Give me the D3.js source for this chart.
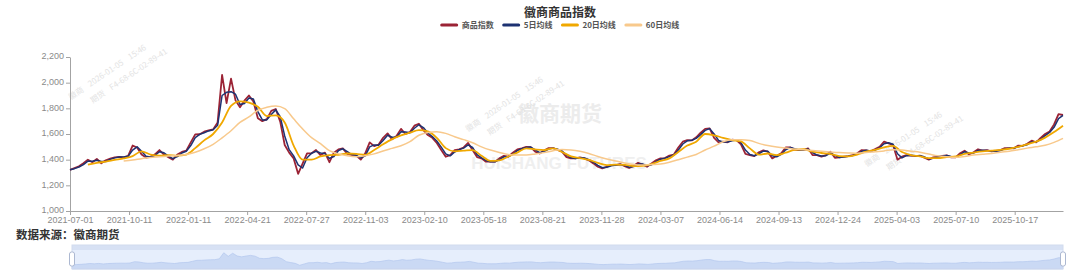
<!DOCTYPE html>
<html>
<head>
<meta charset="utf-8">
<script src="https://cdn.jsdelivr.net/npm/d3@7"></script>
<style>
  body { margin: 0; background: #fff; }
  svg { display: block; }
</style>
</head>
<body>
<div id="root"></div>
<script>
// ---- data ----
var dayCount = 1111;          // trading days on the category axis
var tickEvery = 66;           // one label every 66 trading days
var tickLabels = ["2021-07-01","2021-10-11","2022-01-11","2022-04-21","2022-07-27","2022-11-03",
  "2023-02-10","2023-05-18","2023-08-21","2023-11-28","2024-03-07","2024-06-14","2024-09-13",
  "2024-12-24","2025-04-03","2025-07-10","2025-10-17"];
var yDomain = [1000, 2200];

// 商品指数, one value every 5 trading days
var indexStep = 5;
var indexValues = [
  1320,1335,1348,1372,1400,1380,1405,1372,1395,1408,
  1418,1422,1418,1430,1510,1495,1441,1416,1422,1441,
  1475,1440,1420,1400,1440,1460,1470,1535,1597,1598,
  1618,1628,1636,1690,2060,1840,2031,1862,1808,1860,
  1900,1853,1722,1700,1716,1780,1795,1696,1514,1455,
  1410,1290,1370,1449,1450,1475,1436,1455,1380,1455,
  1480,1488,1445,1436,1432,1400,1449,1535,1505,1518,
  1570,1605,1558,1585,1640,1600,1615,1665,1680,1630,
  1592,1570,1530,1475,1423,1436,1475,1480,1495,1530,
  1475,1420,1410,1384,1384,1384,1410,1430,1423,1455,
  1480,1488,1500,1498,1462,1448,1472,1490,1490,1476,
  1462,1420,1410,1410,1418,1410,1395,1371,1345,1332,
  1345,1358,1358,1366,1350,1335,1352,1375,1362,1345,
  1370,1395,1410,1412,1432,1440,1495,1540,1552,1550,
  1574,1610,1640,1644,1570,1535,1540,1535,1556,1553,
  1520,1445,1436,1428,1458,1472,1462,1410,1430,1449,
  1495,1496,1478,1475,1475,1488,1436,1436,1423,1436,
  1462,1415,1418,1423,1428,1436,1450,1475,1472,1465,
  1482,1500,1540,1527,1515,1400,1423,1436,1432,1428,
  1432,1415,1400,1418,1423,1430,1434,1418,1418,1450,
  1470,1440,1458,1481,1470,1474,1464,1468,1474,1490,
  1490,1488,1510,1508,1524,1548,1535,1570,1600,1620,
  1675,1755,1748
];

// 5日均线, same grid
var ma5Step = 5;
var ma5Values = [
  1322,1330,1343,1362,1388,1388,1395,1385,1386,1402,
  1414,1420,1420,1426,1475,1500,1465,1426,1420,1433,
  1462,1454,1428,1408,1424,1452,1466,1510,1572,1597,
  1610,1624,1633,1668,1900,1925,1930,1910,1830,1838,
  1880,1872,1775,1710,1710,1752,1788,1735,1585,1478,
  1430,1360,1335,1415,1450,1465,1452,1448,1410,1425,
  1470,1485,1462,1440,1434,1414,1430,1500,1515,1512,
  1550,1590,1575,1575,1618,1615,1610,1645,1672,1650,
  1608,1580,1545,1498,1445,1430,1460,1478,1490,1515,
  1495,1440,1414,1394,1384,1384,1400,1422,1425,1442,
  1470,1485,1495,1498,1476,1454,1463,1482,1490,1482,
  1468,1436,1414,1410,1415,1413,1400,1380,1356,1337,
  1340,1352,1358,1363,1356,1341,1346,1366,1367,1352,
  1360,1385,1404,1411,1424,1437,1475,1522,1547,1551,
  1566,1595,1628,1642,1600,1550,1538,1537,1548,1554,
  1533,1475,1440,1431,1446,1466,1466,1430,1422,1441,
  1477,1495,1485,1476,1475,1483,1456,1436,1428,1431,
  1452,1434,1417,1421,1426,1433,1444,1465,1473,1468,
  1475,1493,1524,1532,1520,1446,1414,1431,1434,1430,
  1430,1422,1406,1411,1421,1427,1432,1424,1418,1437,
  1462,1452,1451,1472,1474,1472,1468,1466,1471,1484,
  1490,1489,1501,1509,1517,1538,1540,1556,1588,1612,
  1652,1720,1745
];

// 20日均线, every 10 days from day 20
var ma20Start = 20, ma20Step = 10;
var ma20Values = [
  1362,1375,1385,1398,1410,1428,1465,1440,1432,1436,
  1432,1440,1490,1550,1600,1690,1820,1855,1845,1812,
  1740,1745,1690,1510,1400,1400,1425,1436,1438,1448,
  1445,1438,1475,1520,1560,1590,1610,1630,1620,1570,
  1490,1465,1470,1475,1430,1390,1395,1425,1455,1488,
  1480,1475,1488,1460,1425,1412,1398,1375,1358,1362,
  1360,1350,1352,1366,1390,1410,1460,1510,1540,1600,
  1590,1570,1553,1542,1488,1440,1448,1436,1455,1476,
  1481,1462,1452,1444,1428,1425,1440,1462,1476,1495,
  1508,1460,1436,1425,1412,1412,1420,1425,1445,1455,
  1464,1470,1476,1485,1500,1520,1540,1572,1615,1665
];

// 60日均线, every 10 days from day 60
var ma60Start = 60, ma60Step = 10;
var ma60Values = [
  1390,1398,1408,1417,1422,1428,1433,1441,1458,1485,
  1520,1570,1625,1690,1733,1785,1808,1818,1798,1718,
  1640,1572,1525,1470,1445,1430,1423,1430,1445,1468,
  1488,1508,1540,1590,1612,1618,1605,1579,1556,1532,
  1500,1475,1456,1440,1436,1436,1444,1455,1470,1480,
  1476,1465,1448,1425,1405,1390,1374,1362,1358,1362,
  1366,1380,1400,1420,1440,1475,1505,1540,1555,1556,
  1550,1527,1510,1498,1490,1484,1478,1472,1466,1460,
  1455,1452,1450,1455,1462,1468,1478,1476,1466,1458,
  1444,1430,1422,1418,1425,1436,1442,1448,1458,1466,
  1478,1490,1500,1512,1535,1566
];

var series = [
  {name: "商品指数", color: "#9b2335", width: 1.8, start: 0, step: indexStep, values: indexValues, smooth: false},
  {name: "5日均线", color: "#1d3272", width: 1.5, start: 0, step: ma5Step, values: ma5Values, smooth: false},
  {name: "20日均线", color: "#f0a800", width: 1.8, start: ma20Start, step: ma20Step, values: ma20Values, smooth: true},
  {name: "60日均线", color: "#f8c98c", width: 1.5, start: ma60Start, step: ma60Step, values: ma60Values, smooth: true}
];

// ---- drawing ----
var width = 1080, height = 278;
var cjk = "'Noto Sans CJK SC', 'Noto Sans', sans-serif";
var latin = "'Liberation Sans', Arial, sans-serif";

var svg = d3.select("#root").append("svg")
  .attr("width", width)
  .attr("height", height)
  .style("background", "#fff");

var x = d3.scaleLinear().domain([0, dayCount - 1]).range([70, 1063]);
var y = d3.scaleLinear().domain(yDomain).range([211, 57]);

// watermarks
var wm = svg.append("g").attr("pointer-events", "none");
wm.append("text")
  .attr("x", 560).attr("y", 121)
  .attr("text-anchor", "middle")
  .style("font-family", cjk).style("font-weight", "bold").style("font-size", "21px")
  .style("fill", "#ececec")
  .text("徽商期货");
wm.append("text")
  .attr("x", 559).attr("y", 169)
  .attr("text-anchor", "middle")
  .style("font-family", latin).style("font-weight", "bold").style("font-size", "17px")
  .style("fill", "#efefef")
  .text("HUISHANG FUTURES");

[[71, 100], [468, 132], [867, 167]].forEach(function(p){
  var g = wm.append("g").attr("transform", "translate(" + p[0] + "," + p[1] + ") rotate(-34)");
  g.append("text").attr("x", 0).attr("y", 0)
    .style("font-family", cjk).style("font-size", "8px").style("fill", "#e3e3e3")
    .attr("xml:space", "preserve")
    .text("徽商    2026-01-05    15:46");
  g.append("text").attr("x", 16).attr("y", 15)
    .style("font-family", cjk).style("font-size", "8px").style("fill", "#e3e3e3")
    .attr("xml:space", "preserve")
    .text("期货    F4-68-6C-02-89-41");
});

// axes
var yAxis = d3.axisLeft(y)
  .tickValues(y.ticks(6))
  .tickSize(4)
  .tickSizeOuter(0)
  .tickPadding(2)
  .tickFormat(d3.format(","));

var tickDays = tickLabels.map(function(d, i){ return i * tickEvery; });
var xAxis = d3.axisBottom(x)
  .tickValues(tickDays)
  .tickSize(4)
  .tickSizeOuter(0)
  .tickPadding(2)
  .tickFormat(function(d, i){ return tickLabels[i]; });

var gy = svg.append("g").attr("transform", "translate(70,0)").call(yAxis);
var gx = svg.append("g").attr("transform", "translate(0,211)").call(xAxis);

[gy, gx].forEach(function(g){
  g.select(".domain").attr("stroke", "#a3a3a3");
  g.selectAll(".tick line").attr("stroke", "#a3a3a3");
  g.selectAll(".tick text")
    .style("font-family", latin)
    .style("font-size", "9px")
    .attr("fill", "#8a8a8a");
});
gy.selectAll(".tick text").attr("dy", "0.2em");

// lines
series.forEach(function(s){
  var line = d3.line()
    .x(function(v, i){ return x(s.start + i * s.step); })
    .y(function(v){ return y(v); })
    .curve(s.smooth ? d3.curveMonotoneX : d3.curveLinear);
  svg.append("path")
    .datum(s.values)
    .attr("fill", "none")
    .attr("stroke", s.color)
    .attr("stroke-width", s.width)
    .attr("stroke-linejoin", "round")
    .attr("d", line);
});

// title
svg.append("text")
  .attr("x", 560).attr("y", 17)
  .attr("text-anchor", "middle")
  .style("font-family", cjk).style("font-weight", "bold").style("font-size", "12px")
  .style("fill", "#333")
  .text("徽商商品指数");

// legend
var legend = svg.append("g");
var lx = 0;
series.forEach(function(s){
  var item = legend.append("g").attr("transform", "translate(" + lx + ",0)");
  item.append("line")
    .attr("x1", 1).attr("x2", 16).attr("y1", 25).attr("y2", 25)
    .attr("stroke", s.color).attr("stroke-width", 3).attr("stroke-linecap", "round");
  var t = item.append("text")
    .attr("x", 21).attr("y", 28)
    .style("font-family", cjk).style("font-weight", "bold").style("font-size", "8px")
    .style("fill", "#555")
    .text(s.name);
  lx += 21 + t.node().getComputedTextLength() + 9;
});
legend.attr("transform", "translate(" + (560 - (lx - 9) / 2) + ",0)");

// source note
svg.append("text")
  .attr("x", 16).attr("y", 238.5)
  .style("font-family", cjk).style("font-weight", "bold").style("font-size", "11.5px")
  .style("fill", "#333")
  .text("数据来源：徽商期货");

// data zoom slider
var sx = d3.scaleLinear().domain(x.domain()).range([72, 1063]);
var sy = d3.scaleLinear().domain(yDomain).range([270, 250.5]);
var slider = svg.append("g");
slider.append("rect")
  .attr("x", 72).attr("y", 245).attr("width", 1063 - 72).attr("height", 5)
  .attr("fill", "#d7e1f4");
slider.append("rect")
  .attr("x", 72).attr("y", 250).attr("width", 1063 - 72).attr("height", 19)
  .attr("fill", "#e6eefc");
var shadow = d3.area()
  .x(function(v, i){ return sx(i * indexStep); })
  .y0(269)
  .y1(function(v){ return sy(v); });
slider.append("path")
  .datum(indexValues)
  .attr("fill", "#cad9f4")
  .attr("stroke", "#b3c7ee")
  .attr("stroke-width", 0.7)
  .attr("d", shadow);
slider.append("rect")
  .attr("x", 72).attr("y", 245).attr("width", 1063 - 72).attr("height", 24)
  .attr("fill", "none").attr("stroke", "#d2dbee");
[72, 1063].forEach(function(hx){
  slider.append("rect")
    .attr("x", hx - 2.5).attr("y", 252).attr("width", 5).attr("height", 14)
    .attr("rx", 2)
    .attr("fill", "#fff").attr("stroke", "#acb8d1");
});
</script>
</body>
</html>
